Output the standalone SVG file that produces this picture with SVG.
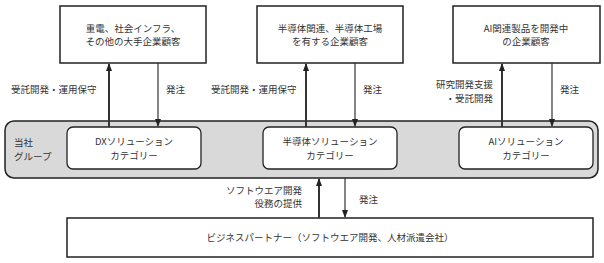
<svg xmlns="http://www.w3.org/2000/svg" width="604" height="263" viewBox="0 0 604 263">
<defs>
<style>
text{font-family:"Noto Sans CJK JP","Noto Sans CJK SC",sans-serif;font-size:9.5px;fill:#333;}
.c{text-anchor:middle;}
.r{text-anchor:end;}
.box{fill:#fff;stroke:#222;stroke-width:1.5;}
.band{fill:#d9d9d9;stroke:#222;stroke-width:1.5;}
.rbox{fill:#fff;stroke:#222;stroke-width:1.3;}
.up{stroke:#333;stroke-width:2;fill:none;marker-end:url(#ah);}
.dn{stroke:#333;stroke-width:1.2;fill:none;marker-end:url(#ah);}
</style>
<marker id="ah" viewBox="0 0 8 8" refX="7" refY="4" markerWidth="8" markerHeight="8" markerUnits="userSpaceOnUse" orient="auto">
<path d="M0,1 L8,4 L0,7 Z" fill="#222"/>
</marker>
</defs>
<g id="band">
<rect class="band" x="5" y="121" width="593" height="57" rx="9"/>
<text x="14" y="146">当社</text>
<text x="14" y="160">グループ</text>
</g>
<g id="cust1">
<rect class="box" x="60" y="6" width="146" height="57"/>
<text class="c" x="133" y="32">重電、社会インフラ、</text>
<text class="c" x="133" y="45">その他の大手企業顧客</text>
</g>
<g id="cust2">
<rect class="box" x="257" y="6" width="146" height="57"/>
<text class="c" x="330" y="32">半導体関連、半導体工場</text>
<text class="c" x="330" y="45">を有する企業顧客</text>
</g>
<g id="cust3">
<rect class="box" x="453" y="6" width="147" height="57"/>
<text class="c" x="526" y="32">AI関連製品を開発中</text>
<text class="c" x="526" y="45">の企業顧客</text>
</g>
<g id="dx">
<rect class="rbox" x="67" y="127" width="134" height="42" rx="6"/>
<text class="c" x="134" y="145">DXソリューション</text>
<text class="c" x="134" y="159">カテゴリー</text>
</g>
<g id="semi">
<rect class="rbox" x="263" y="127" width="134" height="42" rx="6"/>
<text class="c" x="330" y="145">半導体ソリューション</text>
<text class="c" x="330" y="159">カテゴリー</text>
</g>
<g id="ai">
<rect class="rbox" x="459" y="127" width="134" height="42" rx="6"/>
<text class="c" x="526" y="145">AIソリューション</text>
<text class="c" x="526" y="159">カテゴリー</text>
</g>
<g id="partner">
<rect class="box" x="67" y="218" width="526" height="39"/>
<text class="c" x="330" y="241">ビジネスパートナー（ソフトウエア開発、人材派遣会社）</text>
</g>
<g id="connectors">
<line class="up" x1="109" y1="127" x2="109" y2="64"/>
<line class="dn" x1="158" y1="63" x2="158" y2="126"/>
<line class="up" x1="306" y1="127" x2="306" y2="64"/>
<line class="dn" x1="355" y1="63" x2="355" y2="126"/>
<line class="up" x1="502" y1="127" x2="502" y2="64"/>
<line class="dn" x1="552" y1="63" x2="552" y2="126"/>
<line class="up" x1="319" y1="218" x2="319" y2="179"/>
<line class="dn" x1="345" y1="178" x2="345" y2="217"/>
<text x="11" y="93">受託開発・運用保守</text>
<text x="166" y="93">発注</text>
<text x="211" y="93">受託開発・運用保守</text>
<text x="363" y="93">発注</text>
<text class="r" x="493" y="88">研究開発支援</text>
<text class="r" x="493" y="102">・受託開発</text>
<text x="560" y="93">発注</text>
<text class="r" x="302" y="194">ソフトウエア開発</text>
<text class="r" x="302" y="207">役務の提供</text>
<text x="359" y="203">発注</text>
</g>
</svg>
